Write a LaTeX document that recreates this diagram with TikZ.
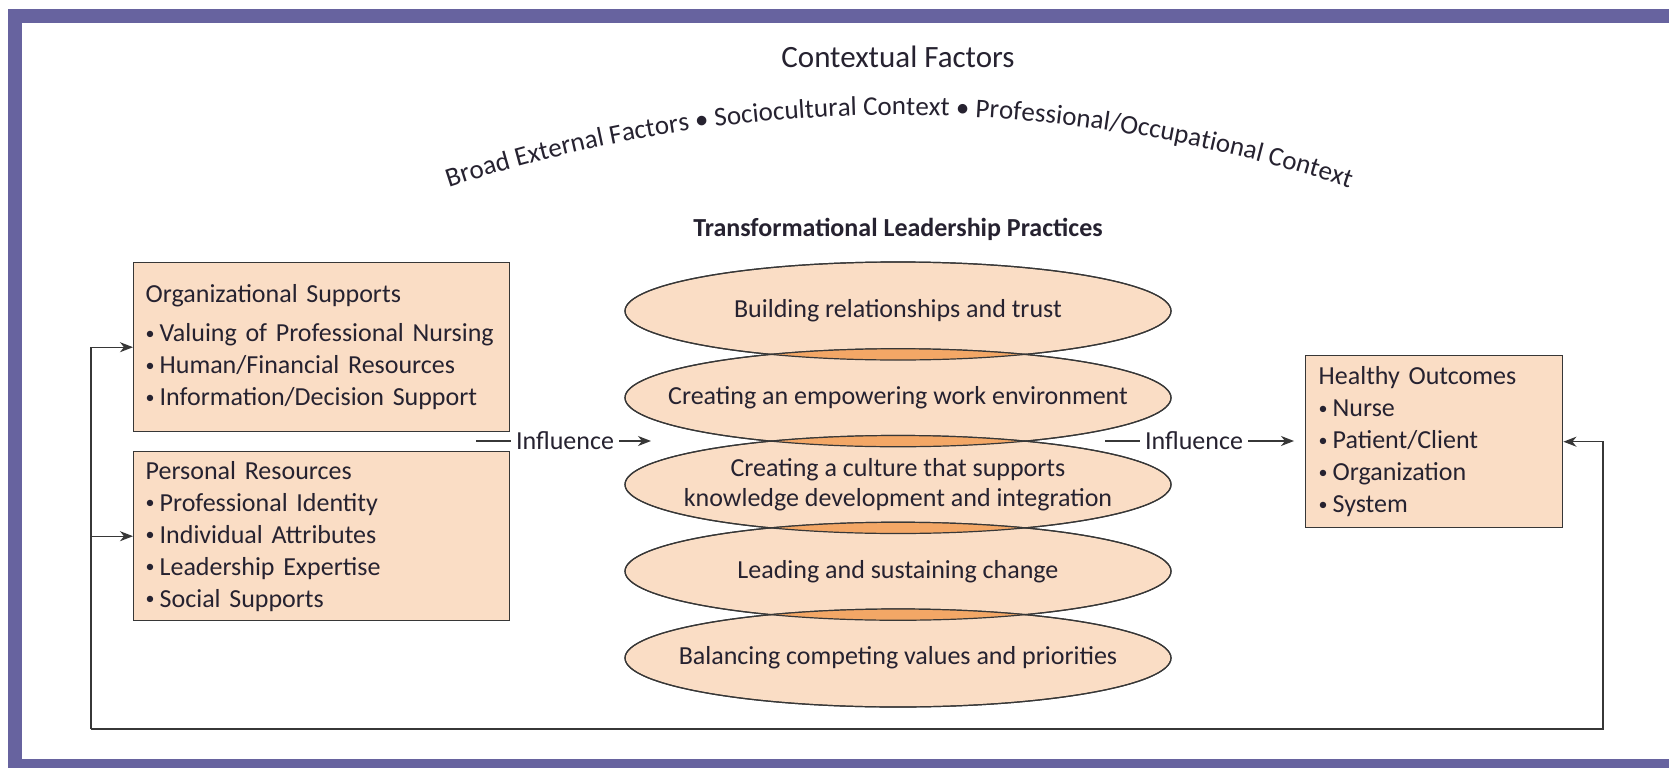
\documentclass[tikz,border=0pt]{standalone}
\usepackage{fontspec}
\setmainfont{Carlito}
\usetikzlibrary{arrows.meta,decorations.text,shapes.geometric}
\definecolor{framepurple}{RGB}{103,99,159}
\definecolor{peach}{RGB}{250,221,197}
\definecolor{lensorange}{RGB}{243,167,102}
\definecolor{txt}{RGB}{38,34,48}
\definecolor{linegray}{RGB}{55,55,55}
\newcommand\bul{\raisebox{2.6pt}{\fontsize{18}{18}\selectfont\textbullet}\hspace{5pt}}
\tikzset{
 box/.style={draw=linegray, line width=1.4pt, fill=peach, rectangle, anchor=north west, inner xsep=12pt, inner ysep=0pt, align=left, font=\fontsize{26}{32}\selectfont},
 ell/.style={draw=linegray, line width=1.2pt, fill=peach, shape=ellipse, minimum width=546pt, minimum height=98pt, inner sep=0pt},
 ellborder/.style={draw=linegray, line width=1.2pt},
 elltext/.style={font=\fontsize{26}{30}\selectfont, align=center},
 conn/.style={draw=linegray, line width=1.3pt},
 arr/.style={conn, -{Stealth[length=13pt,width=10pt,inset=4pt]}},
 inftext/.style={font=\fontsize{26}{30}\selectfont, inner xsep=5pt},
}
\begin{document}
\begin{tikzpicture}[x=1pt,y=-1pt,text=txt]
\useasboundingbox (0,0) rectangle (1669,768);
\fill[white] (0,0) rectangle (1669,768);
\fill[framepurple] (8,9) rectangle (1669,768);
\fill[white] (22,23) rectangle (1669,759);

% titles
\node[font=\fontsize{31}{36}\selectfont, anchor=base] (ctx) at (898,67) {Contextual Factors};
\path[decorate, decoration={text along path, text align=center,
  text={|\fontsize{27}{30}\selectfont\color{txt}|Broad External Factors • Sociocultural Context • Professional/Occupational Context}}]
  (362.8,219.1) arc[start angle=-112, end angle=-68, radius=1430];
\node[font=\bfseries\fontsize{26}{30}\selectfont, anchor=base] (tlp) at (898,236) {Transformational Leadership Practices};

% boxes
\node[box, minimum width=375pt, minimum height=169pt, text width=352pt] (org) at (133,262)
 {Organizational Supports\\[7pt]\mbox{\bul Valuing of Professional Nursing}\\ \mbox{\bul Human/Financial Resources}\\ \mbox{\bul Information/Decision Support}};
\node[box, minimum width=375pt, minimum height=169pt, text width=352pt] (pers) at (133,451)
 {Personal Resources\\ \bul Professional Identity\\ \bul Individual Attributes\\ \bul Leadership Expertise\\ \bul Social Supports};
\node[box, minimum width=257pt, minimum height=172pt, text width=231pt, inner xsep=13pt] (hb) at (1305,355)
 {Healthy Outcomes\\ \bul Nurse\\ \bul Patient/Client\\ \bul Organization\\ \bul System};

% ellipses
\node[ell] (e1) at (898,311) {};
\node[ell] (e2) at (898,397.75) {};
\node[ell] (e3) at (898,484.5) {};
\node[ell] (e4) at (898,571.25) {};
\node[ell] (e5) at (898,658) {};
\foreach \a/\b in {e1/e2,e2/e3,e3/e4,e4/e5}{
  \begin{scope}
    \clip (\a.center) ellipse [x radius=273, y radius=49];
    \fill[lensorange] (\b.center) ellipse [x radius=273, y radius=49];
  \end{scope}
}
\foreach \e in {e1,e2,e3,e4,e5}{
  \draw[ellborder] (\e.center) ellipse [x radius=273, y radius=49];
}
\node[elltext] (t1) at (e1) {Building relationships and trust};
\node[elltext] (t2) at (e2) {Creating an empowering work environment};
\node[elltext] (t3) at (e3) {Creating a culture that supports\\knowledge development and integration};
\node[elltext] (t4) at (e4) {Leading and sustaining change};
\node[elltext] (t5) at (e5) {Balancing competing values and priorities};

% influence connectors
\node[inftext] (inf1) at (565,441) {Influence};
\coordinate (d1) at (476,441);
\coordinate (a1) at (651,441);
\draw[conn] (d1) -- (inf1.west);
\draw[arr] (inf1.east) -- (a1);

\node[inftext] (inf2) at (1194,441) {Influence};
\coordinate (d2) at (1105,441);
\draw[conn] (d2) -- (inf2.west);
\draw[arr, shorten >=11pt] (inf2.east) -- (hb.west |- inf2.east);

% feedback loop
\coordinate (fr) at (1603,729);
\coordinate (fl) at (91,729);
\draw[arr] (fl) -- (fr) |- (hb.east);
\draw[arr] (fl) |- (org.west);
\draw[arr] (fl |- pers.west) -- (pers.west);
\end{tikzpicture}
\end{document}
